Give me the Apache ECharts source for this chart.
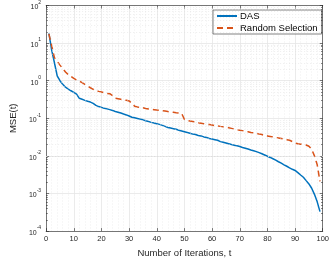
<!DOCTYPE html>
<html>
<head>
<meta charset="utf-8">
<script src="https://cdn.jsdelivr.net/npm/echarts@6/dist/echarts.min.js"></script>
<style>html,body{margin:0;padding:0;background:#fff}#c{width:332px;height:263px}</style>
</head>
<body>
<div id="c"></div>
<script>
var iterations = [];
for (var i = 1; i <= 99; i++) iterations.push(i);

var dasMSE = [
 18, 6.5, 3.0, 1.35, 1.0, 0.8, 0.67, 0.6, 0.54, 0.49,
 0.44, 0.34, 0.32, 0.30, 0.285, 0.27, 0.25, 0.22, 0.205, 0.195,
 0.185, 0.178, 0.17, 0.162, 0.152, 0.145, 0.138, 0.13, 0.123, 0.115,
 0.107, 0.103, 0.099, 0.095, 0.091, 0.086, 0.082, 0.078, 0.075, 0.072,
 0.069, 0.065, 0.061, 0.057, 0.055, 0.053, 0.051, 0.048, 0.046, 0.044,
 0.042, 0.040, 0.038, 0.037, 0.035, 0.034, 0.032, 0.031, 0.029, 0.028,
 0.027, 0.026, 0.024, 0.023, 0.022, 0.021, 0.020, 0.0193, 0.0185, 0.0178,
 0.0168, 0.016, 0.0152, 0.0144, 0.0137, 0.013, 0.0122, 0.0114, 0.0106, 0.0098,
 0.0091, 0.0084, 0.0077, 0.0070, 0.0064, 0.0058, 0.0053, 0.0048, 0.0044, 0.0041,
 0.0036, 0.0031, 0.0027, 0.0022, 0.0018, 0.00138, 0.00095, 0.00060, 0.00033
];

var randomMSE = [
 17.6, 8.5, 4.1, 3.3, 2.6, 2.1, 1.7, 1.45, 1.3, 1.15,
 1.05, 0.97, 0.89, 0.8, 0.72, 0.65, 0.59, 0.55, 0.52, 0.5,
 0.48, 0.46, 0.45, 0.40, 0.34, 0.33, 0.32, 0.31, 0.30, 0.29,
 0.25, 0.21, 0.20, 0.195, 0.19, 0.182, 0.178, 0.174, 0.17, 0.166,
 0.163, 0.16, 0.156, 0.151, 0.148, 0.145, 0.141, 0.138, 0.135, 0.093,
 0.088, 0.085, 0.082, 0.079, 0.076, 0.074, 0.072, 0.070, 0.068, 0.066,
 0.064, 0.063, 0.061, 0.060, 0.058, 0.056, 0.054, 0.052, 0.050, 0.048,
 0.047, 0.045, 0.044, 0.042, 0.041, 0.040, 0.038, 0.037, 0.035, 0.034,
 0.033, 0.032, 0.031, 0.030, 0.029, 0.028, 0.027, 0.026, 0.024, 0.022,
 0.021, 0.0205, 0.020, 0.0195, 0.018, 0.015, 0.010, 0.0058, 0.0021
];

var xTicks = [0, 10, 20, 30, 40, 50, 60, 70, 80, 90, 100];
var yDecades = [-4, -3, -2, -1, 0, 1, 2];
var minorMults = [2, 3, 4, 5, 6, 7, 8, 9];

var FONT = 'Liberation Sans, Arial, Helvetica, sans-serif';
var AX = '#262626';

var minorVals = [];
for (var d = 0; d < yDecades.length - 1; d++) {
  for (var m = 0; m < minorMults.length; m++) minorVals.push(minorMults[m] * Math.pow(10, yDecades[d]));
}
var gridLines = minorVals.map(function (v) { return { yAxis: v }; });
var minorTickLines = [];
minorVals.forEach(function (v) {
  minorTickLines.push([{ coord: [0, v] }, { coord: [0.6, v] }]);
  minorTickLines.push([{ coord: [99.4, v] }, { coord: [100, v] }]);
});

var seriesData = function (vals) { return iterations.map(function (t, k) { return [t, vals[k]]; }); };

var chart = echarts.init(document.getElementById('c'), null, { renderer: 'canvas' });
chart.setOption({
  animation: false,
  backgroundColor: '#fff',
  grid: { left: 27.5, right: 6, top: 4.5, bottom: 24, containLabel: false },
  legend: {
    data: ['DAS', 'Random Selection'],
    orient: 'vertical',
    left: 213, top: 10,
    backgroundColor: '#fff',
    borderColor: '#4a4a4a', borderWidth: 0.7,
    padding: [1, 4, 1, 3],
    itemGap: 2, itemWidth: 20, itemHeight: 11,
    itemStyle: { opacity: 0, borderWidth: 0 },
    textStyle: { fontSize: 9.5, fontFamily: FONT, color: '#000', padding: [0, 0, 0, -2] }
  },
  xAxis: [{
    type: 'value', min: 0, max: 100, interval: 10,
    name: 'Number of Iterations, t', nameLocation: 'middle', nameGap: 13,
    nameTextStyle: { fontSize: 9.5, fontFamily: FONT, color: AX },
    axisLine: { show: true, onZero: false, lineStyle: { color: AX, width: 0.6 } },
    axisTick: { show: true, inside: true, length: 3, lineStyle: { color: AX, width: 0.6 } },
    axisLabel: { fontSize: 7.5, fontFamily: FONT, color: AX, margin: 4 },
    splitLine: { show: true, lineStyle: { color: '#e6e6e6', width: 0.8 } },
    minorTick: { show: false, splitNumber: 5 },
    minorSplitLine: { show: true, lineStyle: { color: '#dcdcdc', width: 0.5, type: [1, 2] } }
  }, {
    type: 'value', min: 0, max: 100, interval: 10, position: 'top',
    axisLine: { show: true, onZero: false, lineStyle: { color: AX, width: 0.6 } },
    axisTick: { show: true, inside: true, length: 3, lineStyle: { color: AX, width: 0.6 } },
    axisLabel: { show: false }, splitLine: { show: false }
  }],
  yAxis: [{
    type: 'log', logBase: 10, min: 1e-4, max: 1e2,
    name: 'MSE(t)', nameLocation: 'middle', nameGap: 20, nameRotate: 90,
    nameTextStyle: { fontSize: 9.5, fontFamily: FONT, color: AX },
    axisLine: { show: true, onZero: false, lineStyle: { color: AX, width: 0.6 } },
    axisTick: { show: true, inside: true, length: 3, lineStyle: { color: AX, width: 0.6 } },
    axisLabel: {
      margin: 5, color: AX,
      formatter: function (v) { var e = Math.round(Math.log(v) / Math.LN10); return '{b|10}{s|' + e + '}'; },
      rich: {
        b: { fontSize: 7, fontFamily: FONT, color: AX, verticalAlign: 'bottom', lineHeight: 11 },
        s: { fontSize: 5, fontFamily: FONT, color: AX, verticalAlign: 'top', lineHeight: 11 }
      }
    },
    splitLine: { show: true, lineStyle: { color: '#e6e6e6', width: 0.8 } }
  }, {
    type: 'log', logBase: 10, min: 1e-4, max: 1e2, position: 'right',
    axisLine: { show: true, onZero: false, lineStyle: { color: AX, width: 0.6 } },
    axisTick: { show: true, inside: true, length: 3, lineStyle: { color: AX, width: 0.6 } },
    axisLabel: { show: false }, splitLine: { show: false }
  }],
  series: [{
    name: 'minor', type: 'line', data: [], z: 1, silent: true,
    markLine: {
      silent: true, symbol: 'none', label: { show: false }, animation: false,
      lineStyle: { color: '#dcdcdc', width: 0.5, type: [1, 2] },
      emphasis: { disabled: true },
      data: gridLines
    }
  }, {
    name: 'minorTicks', type: 'line', data: [], z: 4, silent: true,
    markLine: {
      silent: true, symbol: 'none', label: { show: false }, animation: false,
      lineStyle: { color: AX, width: 0.6, type: 'solid' },
      emphasis: { disabled: true },
      data: minorTickLines
    }
  }, {
    name: 'DAS', type: 'line', data: seriesData(dasMSE), z: 3,
    symbol: 'none', showSymbol: false,
    lineStyle: { color: '#0072BD', width: 1.5 }, itemStyle: { color: '#0072BD' }
  }, {
    name: 'Random Selection', type: 'line', data: seriesData(randomMSE), z: 3,
    symbol: 'none', showSymbol: false,
    lineStyle: { color: '#D95319', width: 1.5, type: [6, 4] }, itemStyle: { color: '#D95319' }
  }]
});
</script>
</body>
</html>
